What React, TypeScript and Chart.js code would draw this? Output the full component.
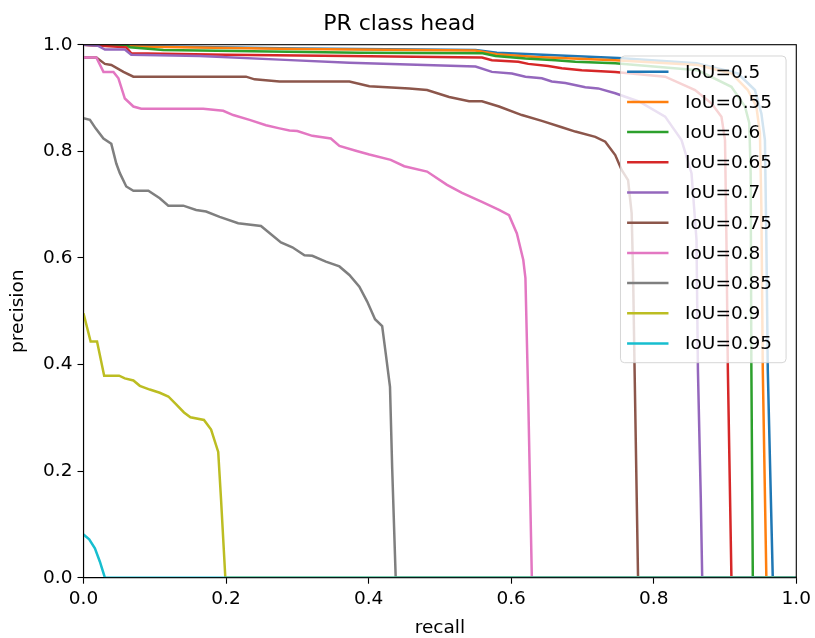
import React, { useEffect, useRef } from "react";
import { Chart, registerables } from "chart.js";

Chart.register(...registerables);

const FONT = "'DejaVu Sans', sans-serif";

const chartTitle = "PR class head";
const xAxisTitle = "recall";
const yAxisTitle = "precision";

const seriesLabels = [
  "IoU=0.5", "IoU=0.55", "IoU=0.6", "IoU=0.65", "IoU=0.7",
  "IoU=0.75", "IoU=0.8", "IoU=0.85", "IoU=0.9", "IoU=0.95",
];
const seriesColors = [
  "#1f77b4", "#ff7f0e", "#2ca02c", "#d62728", "#9467bd",
  "#8c564b", "#e377c2", "#7f7f7f", "#bcbd22", "#17becf",
];

const axisTicks = [0, 0.2, 0.4, 0.6, 0.8, 1.0];
const axisTickLabels = ["0.0", "0.2", "0.4", "0.6", "0.8", "1.0"];

// IoU=0.5
const recall50 = [0, 0.09, 0.3, 0.55, 0.58, 0.75, 0.86, 0.918, 0.942, 0.951, 0.956, 0.958, 0.96, 0.967, 1.0];
const precision50 = [1.0, 0.997, 0.993, 0.99, 0.985, 0.975, 0.965, 0.946, 0.915, 0.871, 0.821, 0.634, 0.39, 0, 0];
// IoU=0.55
const recall55 = [0, 0.09, 0.3, 0.55, 0.58, 0.634, 0.746, 0.862, 0.909, 0.932, 0.944, 0.949, 0.951, 0.953, 0.958, 1.0];
const precision55 = [1.0, 0.996, 0.992, 0.989, 0.982, 0.977, 0.971, 0.962, 0.946, 0.915, 0.884, 0.834, 0.696, 0.39, 0, 0];
// IoU=0.6
const recall60 = [0, 0.06, 0.065, 0.112, 0.387, 0.56, 0.578, 0.62, 0.662, 0.69, 0.746, 0.862, 0.909, 0.928, 0.934, 0.936, 0.937, 0.939, 1.0];
const precision60 = [1.0, 1.0, 0.995, 0.99, 0.985, 0.984, 0.979, 0.974, 0.971, 0.968, 0.965, 0.952, 0.921, 0.884, 0.853, 0.759, 0.39, 0, 0];
// IoU=0.65
const recall65 = [0, 0.06, 0.067, 0.2, 0.37, 0.559, 0.573, 0.61, 0.624, 0.652, 0.671, 0.699, 0.746, 0.816, 0.858, 0.881, 0.895, 0.9, 0.902, 0.904, 0.909, 1.0];
const precision65 = [1.0, 0.995, 0.984, 0.981, 0.979, 0.976, 0.971, 0.968, 0.964, 0.96, 0.956, 0.952, 0.949, 0.94, 0.915, 0.89, 0.865, 0.821, 0.634, 0.39, 0, 0];
// IoU=0.7
const recall70 = [0, 0.02, 0.03, 0.058, 0.067, 0.163, 0.275, 0.373, 0.55, 0.573, 0.601, 0.62, 0.643, 0.657, 0.676, 0.704, 0.722, 0.746, 0.78, 0.816, 0.839, 0.853, 0.86, 0.862, 0.866, 0.868, 1.0];
const precision70 = [1.0, 0.998, 0.991, 0.991, 0.981, 0.979, 0.972, 0.966, 0.959, 0.949, 0.946, 0.94, 0.937, 0.931, 0.928, 0.92, 0.918, 0.909, 0.893, 0.865, 0.821, 0.759, 0.634, 0.39, 0.15, 0, 0];
// IoU=0.75
const recall75 = [0, 0.018, 0.03, 0.039, 0.056, 0.07, 0.228, 0.24, 0.275, 0.373, 0.401, 0.457, 0.482, 0.513, 0.541, 0.559, 0.583, 0.615, 0.643, 0.671, 0.69, 0.718, 0.732, 0.746, 0.755, 0.764, 0.769, 0.771, 0.773, 0.778, 1.0];
const precision75 = [0.976, 0.976, 0.964, 0.962, 0.949, 0.94, 0.94, 0.935, 0.931, 0.931, 0.922, 0.918, 0.915, 0.902, 0.894, 0.894, 0.884, 0.868, 0.857, 0.845, 0.837, 0.827, 0.818, 0.793, 0.765, 0.746, 0.684, 0.572, 0.402, 0, 0];
// IoU=0.8
const recall80 = [0, 0.018, 0.028, 0.042, 0.049, 0.058, 0.07, 0.081, 0.168, 0.196, 0.21, 0.233, 0.256, 0.275, 0.289, 0.3, 0.321, 0.347, 0.359, 0.382, 0.401, 0.431, 0.45, 0.482, 0.51, 0.531, 0.559, 0.583, 0.597, 0.608, 0.617, 0.62, 0.624, 0.629, 1.0];
const precision80 = [0.976, 0.976, 0.949, 0.949, 0.937, 0.899, 0.884, 0.88, 0.88, 0.876, 0.868, 0.859, 0.849, 0.843, 0.839, 0.838, 0.829, 0.824, 0.81, 0.801, 0.794, 0.784, 0.772, 0.762, 0.737, 0.722, 0.705, 0.69, 0.68, 0.646, 0.596, 0.562, 0.333, 0, 0];
// IoU=0.85
const recall85 = [0, 0.009, 0.017, 0.028, 0.039, 0.046, 0.051, 0.06, 0.07, 0.091, 0.107, 0.119, 0.14, 0.158, 0.172, 0.191, 0.217, 0.249, 0.277, 0.293, 0.31, 0.321, 0.34, 0.359, 0.373, 0.387, 0.398, 0.409, 0.419, 0.424, 0.43, 0.433, 0.438, 1.0];
const precision85 = [0.862, 0.859, 0.843, 0.824, 0.814, 0.777, 0.759, 0.734, 0.726, 0.726, 0.712, 0.698, 0.698, 0.69, 0.687, 0.677, 0.665, 0.66, 0.629, 0.62, 0.605, 0.604, 0.593, 0.584, 0.568, 0.546, 0.518, 0.485, 0.472, 0.421, 0.358, 0.208, 0, 0];
// IoU=0.9
const recall90 = [0, 0.01, 0.019, 0.029, 0.05, 0.058, 0.07, 0.079, 0.093, 0.107, 0.119, 0.13, 0.141, 0.15, 0.169, 0.179, 0.189, 0.193, 0.199, 1.0];
const precision90 = [0.496, 0.443, 0.443, 0.379, 0.379, 0.374, 0.37, 0.36, 0.353, 0.347, 0.34, 0.325, 0.31, 0.301, 0.296, 0.278, 0.236, 0.146, 0, 0];
// IoU=0.95
const recall95 = [0, 0.008, 0.016, 0.023, 0.03, 1.0];
const precision95 = [0.081, 0.072, 0.055, 0.03, 0, 0];

const recallSeries = [recall50, recall55, recall60, recall65, recall70, recall75, recall80, recall85, recall90, recall95];
const precisionSeries = [precision50, precision55, precision60, precision65, precision70, precision75, precision80, precision85, precision90, precision95];

const LINE_W = 2.5;

const framePlugin = {
  id: "axesFrame",
  afterDatasetsDraw(chart: any) {
    const { ctx, chartArea: a } = chart;
    ctx.save();
    ctx.strokeStyle = "#000";
    ctx.lineWidth = 1.1;
    ctx.strokeRect(a.left, a.top, a.right - a.left, a.bottom - a.top);
    ctx.restore();
  },
};

const insideLegendPlugin = {
  id: "insideLegend",
  afterDraw(chart: any) {
    const { ctx, chartArea: a } = chart;
    const fontSize = 18.5;
    const rowH = 30.2;
    const width = 165.6;
    const height = 306.7;
    const right = a.right - 10.2;
    const top = a.top + 11.3;
    const left = right - width;
    const r = 4;
    ctx.save();
    ctx.beginPath();
    ctx.moveTo(left + r, top);
    ctx.lineTo(right - r, top);
    ctx.quadraticCurveTo(right, top, right, top + r);
    ctx.lineTo(right, top + height - r);
    ctx.quadraticCurveTo(right, top + height, right - r, top + height);
    ctx.lineTo(left + r, top + height);
    ctx.quadraticCurveTo(left, top + height, left, top + height - r);
    ctx.lineTo(left, top + r);
    ctx.quadraticCurveTo(left, top, left + r, top);
    ctx.closePath();
    ctx.fillStyle = "rgba(255,255,255,0.8)";
    ctx.fill();
    ctx.strokeStyle = "rgba(204,204,204,0.8)";
    ctx.lineWidth = 1;
    ctx.stroke();
    ctx.font = `${fontSize}px ${FONT}`;
    ctx.textBaseline = "middle";
    ctx.textAlign = "left";
    seriesLabels.forEach((label, i) => {
      const y = top + 15.7 + i * rowH;
      ctx.beginPath();
      ctx.strokeStyle = seriesColors[i];
      ctx.lineWidth = LINE_W;
      ctx.moveTo(left + 6.6, y);
      ctx.lineTo(left + 48, y);
      ctx.stroke();
      ctx.fillStyle = "#000";
      ctx.fillText(label, left + 64.6, y + 1);
    });
    ctx.restore();
  },
};

export default function App() {
  const canvasRef = useRef<HTMLCanvasElement | null>(null);

  useEffect(() => {
    document.body.style.margin = "0";
    const canvas = canvasRef.current;
    if (!canvas) return;
    const tickFont = { family: FONT, size: 18.5 };
    const chart = new Chart(canvas, {
      type: "scatter",
      data: {
        datasets: seriesLabels.map((label, i) => ({
          label,
          data: recallSeries[i].map((x, j) => ({ x, y: precisionSeries[i][j] })),
          borderColor: seriesColors[i],
          backgroundColor: seriesColors[i],
          borderWidth: LINE_W,
          pointRadius: 0,
          pointHoverRadius: 0,
          showLine: true,
          tension: 0,
          fill: false,
          order: seriesLabels.length - i,
        })),
      },
      options: {
        animation: false,
        responsive: false,
        devicePixelRatio: 1,
        events: [],
        layout: { padding: { top: 0, right: 16.5, left: 0, bottom: 0 } },
        plugins: {
          legend: { display: false },
          tooltip: { enabled: false },
          title: {
            display: true,
            text: chartTitle,
            color: "#000",
            font: { family: FONT, size: 22, weight: "normal" },
            padding: { top: 11, bottom: 7.3 },
          },
        },
        scales: {
          x: {
            type: "linear",
            min: 0,
            max: 1,
            afterBuildTicks: (s: any) => {
              s.ticks = axisTicks.map((v) => ({ value: v }));
            },
            afterFit: (s: any) => {
              s.height = 60.3;
            },
            ticks: {
              callback: (_v: any, i: number) => axisTickLabels[i],
              color: "#000",
              font: tickFont,
              padding: 4,
              maxRotation: 0,
              autoSkip: false,
            },
            grid: {
              display: true,
              drawOnChartArea: false,
              drawTicks: true,
              tickLength: 6,
              tickColor: "#000",
              tickWidth: 1.1,
            },
            border: { display: true, color: "#000", width: 1.1 },
            title: {
              display: true,
              text: xAxisTitle,
              color: "#000",
              font: tickFont,
              padding: { top: 0, bottom: -1.5 },
            },
          },
          y: {
            type: "linear",
            min: 0,
            max: 1,
            afterBuildTicks: (s: any) => {
              s.ticks = axisTicks.map((v) => ({ value: v }));
            },
            afterFit: (s: any) => {
              s.width = 83.5;
            },
            ticks: {
              callback: (_v: any, i: number) => axisTickLabels[i],
              color: "#000",
              font: tickFont,
              padding: 5,
              autoSkip: false,
            },
            grid: {
              display: true,
              drawOnChartArea: false,
              drawTicks: true,
              tickLength: 6,
              tickColor: "#000",
              tickWidth: 1.1,
            },
            border: { display: true, color: "#000", width: 1.1 },
            title: {
              display: true,
              text: yAxisTitle,
              color: "#000",
              font: tickFont,
              padding: { top: 7, bottom: 0 },
            },
          },
        },
      },
      plugins: [framePlugin, insideLegendPlugin],
    } as any);
    return () => chart.destroy();
  }, []);

  return (
    <canvas
      ref={canvasRef}
      width={815}
      height={638}
      style={{ display: "block", width: 815, height: 638 }}
    />
  );
}
